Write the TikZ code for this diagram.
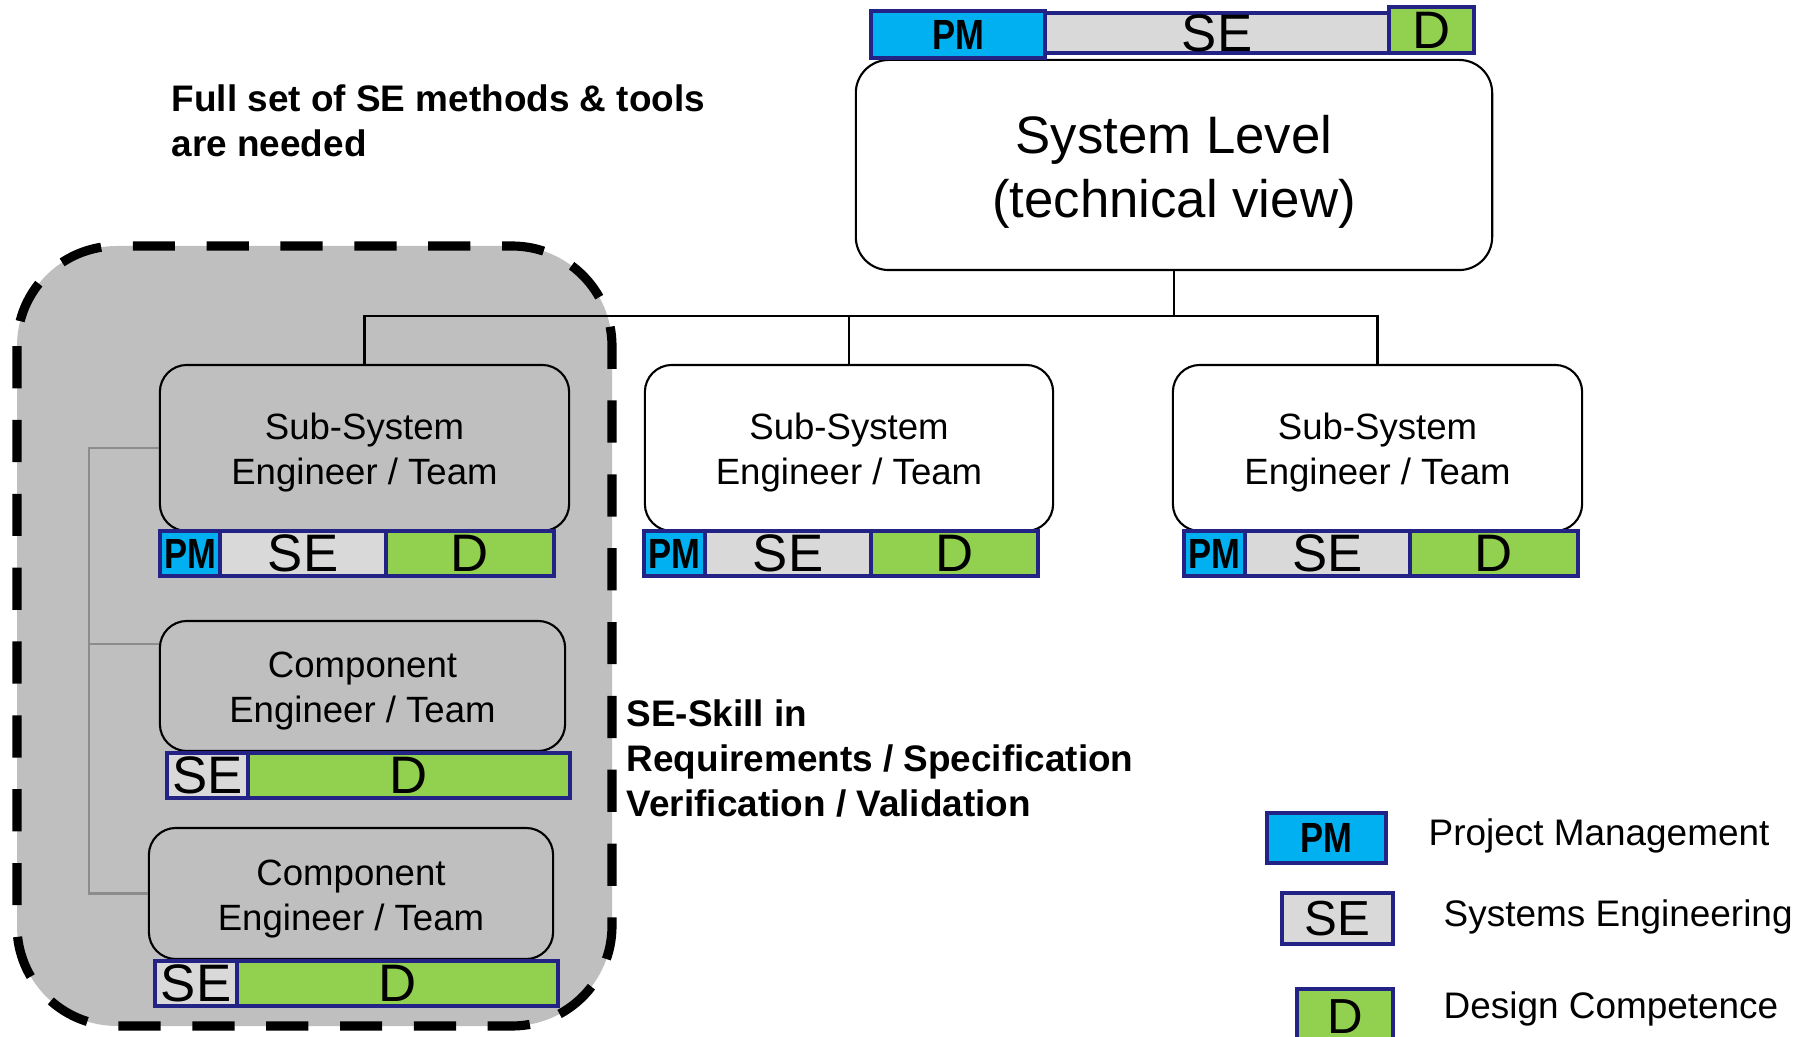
\documentclass[tikz,border=0pt]{standalone}
\usepackage{fontspec}
\setmainfont{Liberation Sans}
\definecolor{pmblue}{HTML}{00B0F0}
\definecolor{segray}{HTML}{D9D9D9}
\definecolor{dgreen}{HTML}{92D050}
\definecolor{cellrim}{HTML}{232385}
\definecolor{zonegray}{HTML}{BFBFBF}
\definecolor{treegray}{HTML}{8C8C8C}
\newcommand\pmlabel{\scalebox{0.82}[1]{\bfseries PM}}
\begin{document}
\begin{tikzpicture}[x=0.01cm,y=-0.01cm,
  zone/.style={fill=zonegray, draw=black, line width=2.6pt,
    dash pattern=on 12pt off 9pt, rounded corners=1cm},
  sysbox/.style={draw, line width=0.6pt, fill=white, rounded corners=0.33cm},
  systext/.style={align=center, inner sep=0pt, font=\fontsize{15}{18}\selectfont},
  unitbox/.style={draw, line width=0.6pt, rounded corners=0.27cm},
  unittext/.style={align=center, inner sep=0pt, font=\fontsize{10.4}{12.8}\selectfont},
  conn/.style={draw, line width=0.6pt},
  tree/.style={draw=treegray, line width=0.6pt},
  cell/.style={draw=cellrim, line width=1.15pt, inner sep=0pt,
    minimum height=0.45cm, font=\fontsize{15}{18}\selectfont},
  pmcell/.style={cell, fill=pmblue, font=\fontsize{12}{14}\selectfont},
  secell/.style={cell, fill=segray},
  dcell/.style={cell, fill=dgreen},
  note/.style={font=\fontsize{10.5}{12.7}\selectfont\bfseries, align=left, inner sep=0pt},
  legtxt/.style={font=\fontsize{10.5}{12.7}\selectfont, inner sep=0pt}]

\useasboundingbox (0,0) rectangle (1809,1037);
\clip (0,0) rectangle (1809,1037);
\fill[white] (0,0) rectangle (1809,1037);

% shaded zone: where the full SE tool set is needed
\draw[zone] (17,246) rectangle (612,1026);

% system level with its competence bar
\node[sysbox, minimum width=6.36cm, minimum height=2.10cm] (sys) at (1174,165) {};
\node[systext] (systxt) at ([yshift=-0.07cm]sys.center) {System Level\\(technical view)};
\node[secell, minimum width=3.44cm, minimum height=0.40cm] (sysse) at (1217,33) {SE};
\node[pmcell, minimum width=1.74cm, minimum height=0.47cm] (syspm) at (958,34.5) {\pmlabel};
\node[dcell, minimum width=0.85cm, minimum height=0.46cm] (sysd) at (1431.5,30) {D};

% sub-system level
\node[unitbox, minimum width=4.09cm, minimum height=1.66cm] (ss1) at (364.5,448) {};
\node[unitbox, fill=white, minimum width=4.08cm, minimum height=1.66cm] (ss2) at (849,448) {};
\node[unitbox, fill=white, minimum width=4.09cm, minimum height=1.66cm] (ss3) at (1377.5,448) {};
\node[unittext] (ss1txt) at ([yshift=-0.05cm]ss1.center) {Sub-System\\Engineer / Team};
\node[unittext] (ss2txt) at ([yshift=-0.05cm]ss2.center) {Sub-System\\Engineer / Team};
\node[unittext] (ss3txt) at ([yshift=-0.05cm]ss3.center) {Sub-System\\Engineer / Team};

% tree from the system down to the sub-systems
\coordinate (busL) at (364.5,316);
\coordinate (busR) at (1377.5,316);
\draw[conn] (sys.south) -- (sys.south |- busL);
\draw[conn] (ss1.north) -- (busL) -- (busR) -- (ss3.north);
\draw[conn] (ss2.north) -- (ss2.north |- busL);

% component level
\node[unitbox, minimum width=4.05cm, minimum height=1.30cm] (comp1) at (362.5,686) {};
\node[unitbox, minimum width=4.04cm, minimum height=1.31cm] (comp2) at (351,893.5) {};
\node[unittext] (comp1txt) at ([yshift=-0.05cm]comp1.center) {Component\\Engineer / Team};
\node[unittext] (comp2txt) at ([yshift=-0.06cm]comp2.center) {Component\\Engineer / Team};

% breakdown of the first sub-system
\coordinate (t0) at (89,448);
\coordinate (t1) at (89,644);
\coordinate (t2) at (89,893.5);
\draw[tree] (ss1.west) -- (t0) -- (t2) -- (comp2.west);
\draw[tree] (t1) -- (t1 -| comp1.west);

% competence bars of the sub-systems
\node[pmcell, minimum width=0.60cm] (ss1pm) at (190,553.5) {\pmlabel};
\node[secell, minimum width=1.66cm] (ss1se) at (303,553.5) {SE};
\node[dcell, minimum width=1.68cm] (ss1d) at (470,553.5) {D};

\node[pmcell, minimum width=0.61cm] (ss2pm) at (674.5,553.5) {\pmlabel};
\node[secell, minimum width=1.66cm] (ss2se) at (788,553.5) {SE};
\node[dcell, minimum width=1.67cm] (ss2d) at (954.5,553.5) {D};

\node[pmcell, minimum width=0.61cm] (ss3pm) at (1214.5,553.5) {\pmlabel};
\node[secell, minimum width=1.65cm] (ss3se) at (1327.5,553.5) {SE};
\node[dcell, minimum width=1.68cm] (ss3d) at (1494,553.5) {D};

% competence bars of the components
\node[secell, minimum width=0.81cm] (c1se) at (207.5,775.5) {SE};
\node[dcell, minimum width=3.22cm] (c1d) at (409,775.5) {D};
\node[secell, minimum width=0.82cm] (c2se) at (196,983.5) {SE};
\node[dcell, minimum width=3.21cm] (c2d) at (397.5,983.5) {D};

% notes
\node[note, anchor=west] (needs) at (171,120.5)
  {Full set of SE methods \& tools\\are needed};
\node[note, anchor=west] (skill) at (626,758.5)
  {SE-Skill in\\Requirements / Specification\\Verification / Validation};

% legend
\node[pmcell, minimum width=1.19cm, minimum height=0.50cm] (lpm) at (1326.5,838) {\pmlabel};
\node[secell, minimum width=1.11cm, minimum height=0.51cm,
  font=\fontsize{14}{16}\selectfont] (lse) at (1337.5,918.5) {SE};
\node[dcell, minimum width=0.96cm, minimum height=0.56cm,
  font=\fontsize{14}{16}\selectfont] (ld) at (1345,1017) {D};
\node[legtxt, anchor=west] (lpmtxt) at (1428,835.5) {Project Management};
\node[legtxt, anchor=west] (lsetxt) at (1443,916.5) {Systems Engineering};
\node[legtxt, anchor=west] (ldtxt) at (1443,1008.5) {Design Competence};
\end{tikzpicture}
\end{document}
